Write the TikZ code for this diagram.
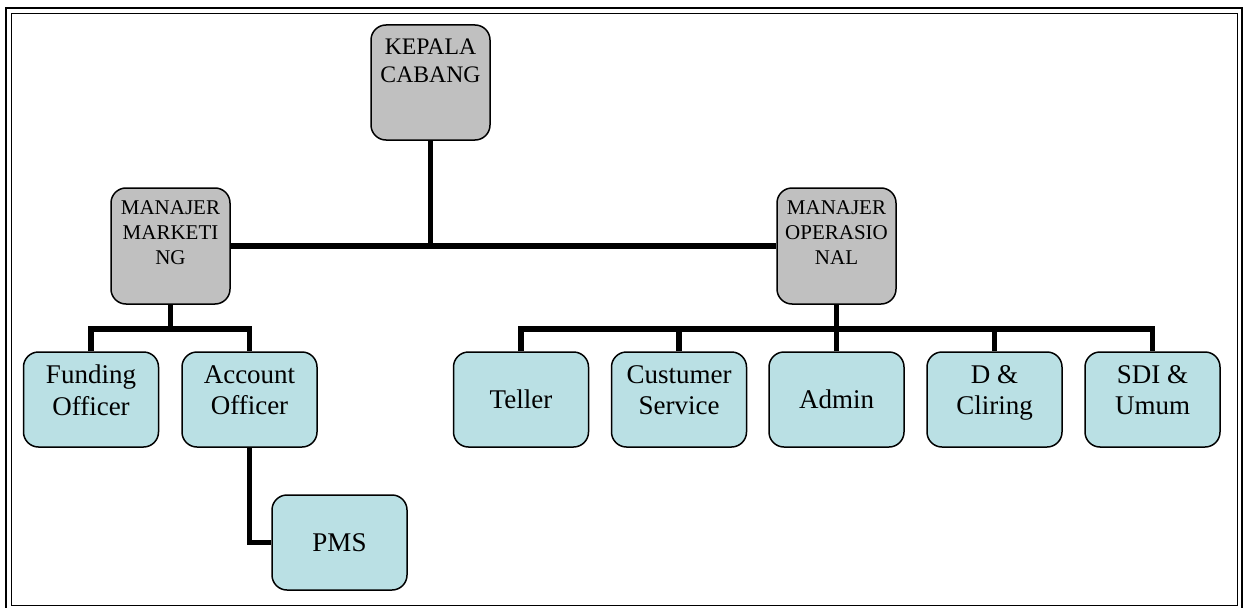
\documentclass[tikz,border=0pt]{standalone}
\usepackage{fontspec}
\setmainfont{Liberation Serif}
\definecolor{boxgray}{RGB}{192,192,192}
\definecolor{boxblue}{RGB}{186,224,228}
\tikzset{
  graybox/.style={draw=black, line width=1.5pt, fill=boxgray, rounded corners=15pt,
    minimum width=119pt, align=center, inner sep=0pt},
  bluebox/.style={draw=black, line width=1.5pt, fill=boxblue, rounded corners=15pt,
    minimum width=135pt, minimum height=95pt, align=center, inner sep=0pt,
    font=\fontsize{27}{31.5}\selectfont},
  mgrfont/.style={font=\fontsize{21}{25}\selectfont},
  conn/.style={line width=5.5pt, line join=miter},
}
\begin{document}
\begin{tikzpicture}[x=1pt,y=-1pt]
\useasboundingbox (0,0) rectangle (1246,607);
\clip (0,0) rectangle (1246,607);
% page border
\draw[line width=2pt] (6,8) rectangle (1242,611);
\draw[line width=1pt] (11,13.5) rectangle (1237,605);
% managers
\node[graybox, minimum height=115pt, font=\fontsize{23.7}{27.7}\selectfont] (kc) at (430.5,82.5)
  {KEPALA\\CABANG\rule[-44pt]{0pt}{0pt}};
\node[graybox, mgrfont, minimum height=116pt] (mm) at (170.5,246)
  {MANAJER\\MARKETI\\NG\rule[-27pt]{0pt}{0pt}};
\node[graybox, mgrfont, minimum height=116pt] (mo) at (836.5,246)
  {MANAJER\\OPERASIO\\NAL\rule[-27pt]{0pt}{0pt}};
% marketing staff
\node[bluebox] (fo) at (91,399.5) {Funding\\Officer\rule[-19pt]{0pt}{0pt}};
\node[bluebox] (ao) at (249.5,399.5) {Account\\Officer\rule[-19pt]{0pt}{0pt}};
\node[bluebox] (pm) at (339.5,542.5) {PMS};
% operational staff
\node[bluebox] (te) at (521,399.5) {Teller};
\node[bluebox] (cs) at (679,399.5) {Custumer\\Service\rule[-19pt]{0pt}{0pt}};
\node[bluebox] (ad) at (836.5,399.5) {Admin};
\node[bluebox] (dc) at (994.5,399.5) {D \&\\Cliring\rule[-19pt]{0pt}{0pt}};
\node[bluebox] (sd) at (1152.5,399.5) {SDI \&\\Umum\rule[-19pt]{0pt}{0pt}};
% branch points
\coordinate (mb) at (170.5,329);
\coordinate (ob) at (836.5,329);
% connectors
\draw[conn] (kc.south) -- (kc.south |- mm.east);
\draw[conn] (mm.east) -- (mo.west);
\draw[conn] (mm.south) -- (mb);
\draw[conn] (fo.north) |- (mb) -| (ao.north);
\draw[conn] (ao.south) |- (pm.west);
\draw[conn] (mo.south) -- (ob);
\draw[conn] (te.north) |- (ob) -| (sd.north);
\draw[conn] (cs.north) -- (cs.north |- ob);
\draw[conn] (ad.north) -- (ob);
\draw[conn] (dc.north) -- (dc.north |- ob);
\end{tikzpicture}
\end{document}
